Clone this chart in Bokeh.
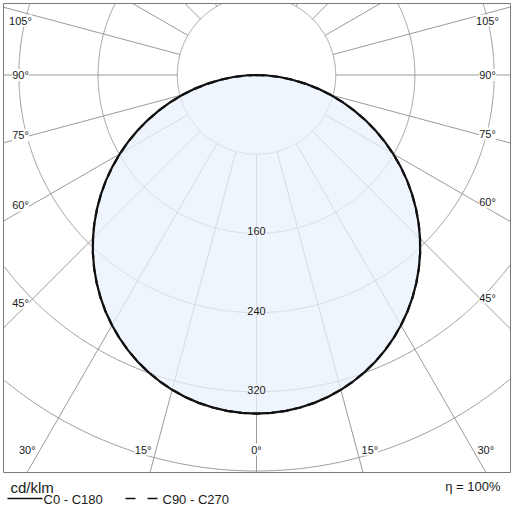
import numpy as np
from bokeh.plotting import figure
from bokeh.models import Range1d, Label
from bokeh.embed import file_html
from bokeh.resources import INLINE

# Luminous intensity distribution (cd/klm) against gamma angle in degrees
gamma_deg = [0, 2.5, 5, 7.5, 10, 12.5, 15, 17.5, 20, 22.5, 25, 27.5, 30, 32.5, 35,
             37.5, 40, 42.5, 45, 47.5, 50, 52.5, 55, 57.5, 60, 62.5, 65, 67.5, 70,
             72.5, 75, 77.5, 80, 82.5, 85, 87.5, 90]
c0_c180 = [342, 341.6, 340.6, 338.8, 336.3, 333.1, 329.2, 324.6, 319.4, 313.5, 306.9,
           299.7, 291.9, 283.6, 274.6, 265.1, 255.1, 244.6, 233.6, 222.2, 210.3, 198.1,
           185.6, 172.7, 159.5, 146.2, 132.6, 118.9, 105.1, 91.2, 77.3, 63.5, 49.9,
           36.4, 23.4, 10.9, 0]
c90_c270 = [342, 341.6, 340.6, 338.8, 336.3, 333.1, 329.2, 324.6, 319.4, 313.5, 306.9,
            299.7, 291.9, 283.6, 274.6, 265.1, 255.1, 244.6, 233.6, 222.2, 210.3, 198.1,
            185.6, 172.7, 159.5, 146.2, 132.6, 118.9, 105.1, 91.2, 77.3, 63.5, 49.9,
            36.4, 23.4, 10.9, 0]

ring_values = [80, 160, 240, 320, 400, 480, 560]
ring_labels = [160, 240, 320]
spoke_angles = list(range(-165, 181, 15))
angle_labels = [0, 15, 30, 45, 60, 75, 90, 105]
unit_text = "cd/klm"
legend_solid = "C0  -  C180"
legend_dashed = "C90  -  C270"
eta_text = "η = 100%"

# ---- canvas geometry (pixels) ----
W = H = 512
CX, CY = 256.0, 74.5      # pole of the diagram on screen
SCALE = 0.99              # pixels per cd/klm
BOX = (3, 3, 510, 472)    # left, top, right, bottom of the diagram frame


def dx(px):
    return (px - CX) / SCALE


def dy(py):
    return (CY - py) / SCALE


p = figure(width=W, height=H, output_backend="svg", toolbar_location=None,
           x_range=Range1d(dx(0), dx(W)), y_range=Range1d(dy(H), dy(0)),
           min_border=0, outline_line_color=None)
p.axis.visible = False
p.grid.visible = False
p.background_fill_color = "white"

bl, bt, br, bb = dx(BOX[0]), dy(BOX[1]), dx(BOX[2]), dy(BOX[3])


def inside(x, y):
    return (x >= bl) & (x <= br) & (y <= bt) & (y >= bb)


def polar(r, g):
    g = np.radians(g)
    return r * np.sin(g), -r * np.cos(g)


GRID = "#9a9a9a"

# concentric intensity rings, clipped to the frame
t = np.linspace(0, 360, 1441)
ring_xs, ring_ys = [], []
for r in ring_values:
    x, y = polar(r, t)
    m = inside(x, y)
    x = np.where(m, x, np.nan)
    y = np.where(m, y, np.nan)
    ring_xs.append(list(x))
    ring_ys.append(list(y))
p.multi_line(ring_xs, ring_ys, line_color=GRID, line_width=1)


def exit_radius(g):
    ux, uy = polar(1.0, g)
    ts = []
    if ux > 1e-9:
        ts.append(br / ux)
    if ux < -1e-9:
        ts.append(bl / ux)
    if uy > 1e-9:
        ts.append(bt / uy)
    if uy < -1e-9:
        ts.append(bb / uy)
    return min(ts)


# radial spokes from the first ring outwards
sp_xs, sp_ys = [], []
for g in spoke_angles:
    r1 = exit_radius(g)
    if r1 <= ring_values[0]:
        continue
    x0, y0 = polar(ring_values[0], g)
    x1, y1 = polar(r1, g)
    sp_xs.append([x0, x1])
    sp_ys.append([y0, y1])
p.multi_line(sp_xs, sp_ys, line_color=GRID, line_width=1)

# distribution curve, mirrored over both half planes
g_full = [-a for a in gamma_deg[::-1]] + gamma_deg[1:]
i_full = c0_c180[::-1] + c0_c180[1:]
cx, cy = polar(np.array(i_full, float), np.array(g_full, float))
p.patch(list(cx), list(cy), fill_color="#e9f2fc", fill_alpha=0.74, line_color=None)
p.line(list(cx), list(cy), line_color="#111111", line_width=2.2, line_join="round")

i_full2 = c90_c270[::-1] + c90_c270[1:]
cx2, cy2 = polar(np.array(i_full2, float), np.array(g_full, float))
p.line(list(cx2), list(cy2), line_color="#111111", line_width=2.2,
       line_dash="8 6", line_join="round")

# frame of the diagram
p.quad(left=[bl], right=[br], top=[bt], bottom=[bb], fill_alpha=0,
       line_color="#7a7a7a", line_width=1)

FONT = "Liberation Sans"
TXT = "#1a1a1a"

# ring values on the 0 degree axis
for r in ring_labels:
    x, y = polar(r, 0)
    p.add_layout(Label(x=x, y=y + 2, text=str(r), text_align="center",
                       text_baseline="middle", text_font=FONT,
                       text_font_size="11px", text_color=TXT,
                       background_fill_color="#f1f6fc", background_fill_alpha=1.0))

# gamma labels along the inner edge of the frame
LX0, LX1, LY1, LY0 = 20, 487, 449, 20
for a in angle_labels:
    for s in ([1] if a == 0 else [-1, 1]):
        g = np.radians(a)
        ux, uy = s * np.sin(g), np.cos(g)   # screen direction, y downward
        if a < 45:
            tt = (LY1 - CY) / uy
            px, py = CX + tt * ux, LY1
            if a != 0:
                px += 13 * s
        else:
            px = LX1 if s > 0 else LX0
            tt = (px - CX) / ux
            py = CY + tt * uy
            py = max(py - 12 * np.cos(g), LY0)
        p.add_layout(Label(x=dx(px), y=dy(py), text=f"{a}°", text_align="center",
                           text_baseline="middle", text_font=FONT,
                           text_font_size="11px", text_color=TXT,
                           background_fill_color="white", background_fill_alpha=1.0))

# unit, legend keys and efficiency below the frame
p.add_layout(Label(x=dx(10), y=dy(487), text=unit_text, text_baseline="middle",
                   text_font=FONT, text_font_size="15px", text_color=TXT))
p.line([dx(7), dx(42)], [dy(498), dy(498)], line_color="#111111", line_width=1.6)
p.add_layout(Label(x=dx(43), y=dy(499), text=legend_solid, text_baseline="middle",
                   text_font=FONT, text_font_size="13px", text_color=TXT))
p.line([dx(125), dx(157)], [dy(498), dy(498)], line_color="#111111",
       line_width=1.6, line_dash="10 12")
p.add_layout(Label(x=dx(162), y=dy(499), text=legend_dashed, text_baseline="middle",
                   text_font=FONT, text_font_size="13px", text_color=TXT))
p.add_layout(Label(x=dx(500), y=dy(486), text=eta_text, text_align="right",
                   text_baseline="middle", text_font=FONT,
                   text_font_size="13px", text_color=TXT))

open("out.html", "w").write(file_html(p, INLINE))
